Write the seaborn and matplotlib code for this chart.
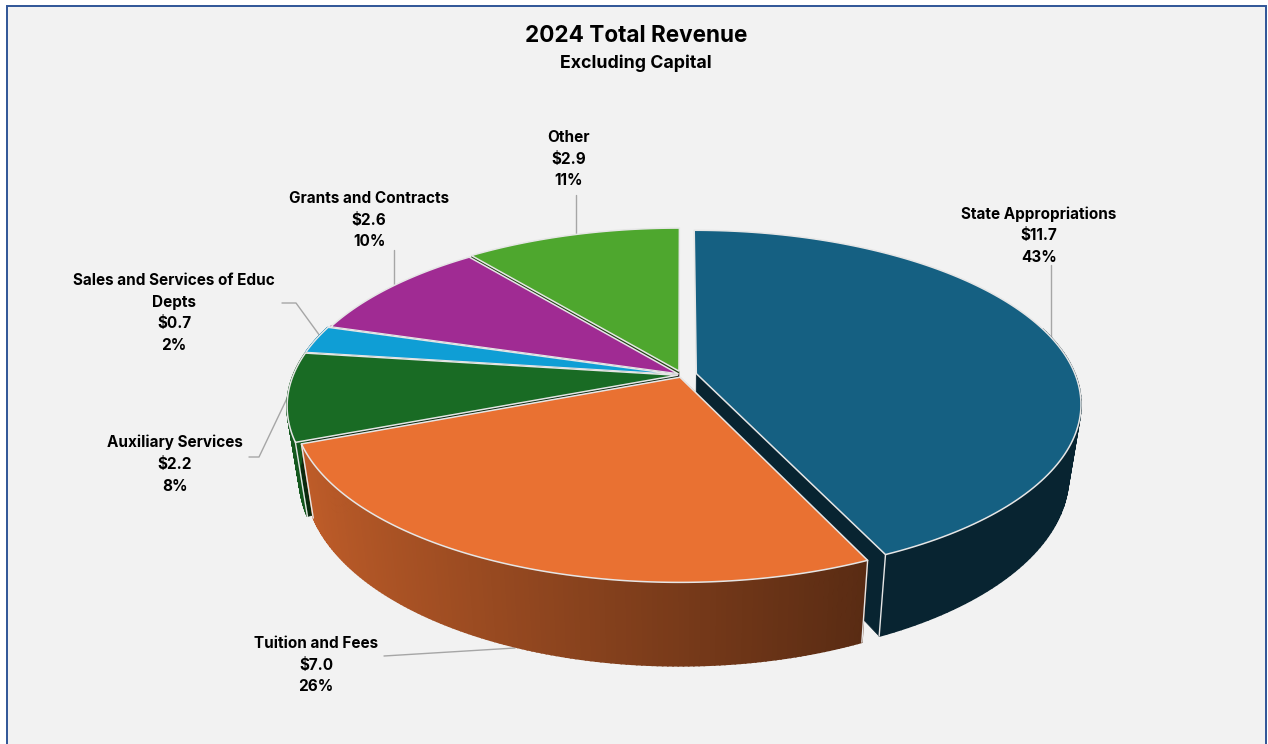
import numpy as np
import matplotlib.pyplot as plt
import seaborn as sns
from matplotlib.patches import Rectangle

# values ($ millions)
categories = ['State Appropriations', 'Tuition and Fees', 'Auxiliary Services',
              'Sales and Services of Educ\nDepts', 'Grants and Contracts', 'Other']
revenue = [11.7, 7.0, 2.2, 0.7, 2.6, 2.9]
percent = [43, 26, 8, 2, 10, 11]
slice_colors = ['#156082', '#E97132', '#196B24', '#0F9ED5', '#A02B93', '#4EA72E']

# how far each slice is pulled out of the pie, and its radius
explode = [0.038, 0.014, 0.012, 0.012, 0.012, 0.024]
radius = [0.982, 0.985, 0.995, 0.995, 0.99, 0.985]

# label centre (pixels) and leader line for each slice
label_pos = [(1039, 214), (316, 644), (175, 443), (174, 281), (369, 199), (569, 138)]
leaders = [
    [(1051, 265), (1051, 338)],
    [(384, 656), (515, 648)],
    [(249, 457), (259, 457), (290, 392)],
    [(282, 303), (296, 303), (320, 336)],
    [(394, 250), (394, 285)],
    [(576, 195), (576, 235)],
]


def project(u, v, level):
    """Perspective projection of a unit disc point, level 0 = top face, 1 = bottom face."""
    cx = 682
    cy = 375 + 69.5 * level
    a = 386 - 12 * level
    b = 171.5 + 11.5 * level
    w = 1 + 0.175 * v
    return cx + a * u / w, cy - b * v / w


def shade(rgb, u):
    # side walls get darker from left to right
    f = np.clip(0.82 - (u + 0.93) * 0.327, 0.38, 0.82)
    return tuple(c * f for c in rgb)


def draw_slice(ax, i, starts, sizes, colors):
    start, size = starts[i], sizes[i]
    mid = start + size / 2
    du = explode[i] * np.sin(mid)
    dv = explode[i] * np.cos(mid)
    t = np.linspace(start, start + size, 140)
    u = radius[i] * np.sin(t) + du
    v = radius[i] * np.cos(t) + dv
    rgb = colors[i]
    edge = '#E6E6E6'

    # radial walls, the two at twelve o'clock are edge-on and never show
    for k in (0, -1):
        if abs(u[k] - du) < 0.02:
            continue
        px = [project(du, dv, 0), project(u[k], v[k], 0), project(u[k], v[k], 1), project(du, dv, 1)]
        ax.fill(*zip(*px), color=shade(rgb, 1.0), lw=0.5, zorder=i_order[i])

    # outer wall, cut into strips for the gradient, back part is hidden anyway
    for k in range(len(t) - 1):
        if v[k] > 0.3:
            continue
        px = [project(u[k], v[k], 0), project(u[k + 1], v[k + 1], 0),
              project(u[k + 1], v[k + 1], 1), project(u[k], v[k], 1)]
        c = shade(rgb, u[k])
        ax.fill(*zip(*px), color=c, lw=1.2, zorder=i_order[i])

    # corner lines on the walls
    for k in (0, -1):
        if v[k] < 0:
            px = [project(u[k], v[k], 0), project(u[k], v[k], 1)]
            ax.plot(*zip(*px), color=edge, lw=1.0, zorder=i_order[i] + 0.1)

    # top face
    tx, ty = project(np.r_[du, u], np.r_[dv, v], 0)
    ax.fill(tx, ty, facecolor=rgb, edgecolor=edge, lw=1.1, joinstyle='round',
            zorder=i_order[i] + 0.2)


sns.set_theme(style='white')
plt.rcParams['font.family'] = ['Inter', 'DejaVu Sans']

fig = plt.figure(figsize=(12.68, 7.44), dpi=100, facecolor='white')
ax = fig.add_axes([0, 0, 1, 1])
ax.set_xlim(0, 1268)
ax.set_ylim(744, 0)
ax.axis('off')

# chart area with its border
ax.add_patch(Rectangle((6.5, 5.5), 1259, 760, facecolor='#F2F2F2', edgecolor='#2F5597', lw=1.4, zorder=0))

palette = sns.color_palette(slice_colors)
sizes = 2 * np.pi * np.array(revenue) / np.sum(revenue)
starts = np.r_[0, np.cumsum(sizes)[:-1]]

# back slices first, tuition last because it sits in front
order = [5, 4, 3, 2, 0, 1]
i_order = {s: n + 2 for n, s in enumerate(order)}
for i in order:
    draw_slice(ax, i, starts, sizes, palette)

for line in leaders:
    ax.plot(*zip(*line), color='#A6A6A6', lw=1.0, zorder=1)

for name, val, pct, (x, y) in zip(categories, revenue, percent, label_pos):
    ax.text(x, y - 8, f'{name}\n${val:.1f}\n{pct}%', ha='center', va='top', fontsize=11,
            fontweight='bold', color='black', linespacing=1.55, zorder=20)

ax.text(636, 36, '2024 Total Revenue', ha='center', va='center', fontsize=16.2, fontweight='bold', color='black')
ax.text(636, 63, 'Excluding Capital', ha='center', va='center', fontsize=12.8, fontweight='bold', color='black')

fig.savefig('out.png', dpi=100)
